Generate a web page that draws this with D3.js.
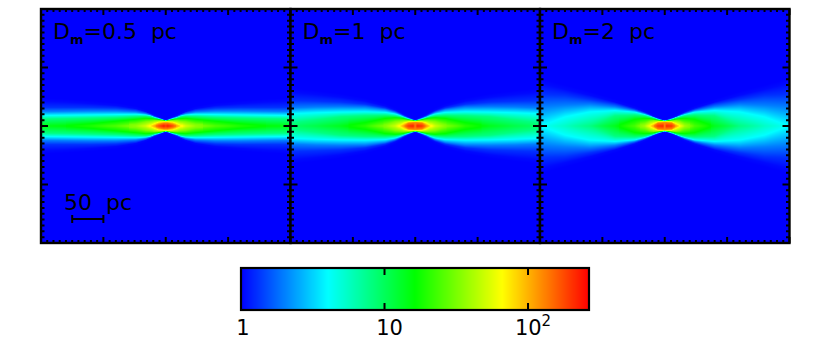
<!DOCTYPE html>
<html lang="en">
<head>
<meta charset="UTF-8">
<title>Dm panels</title>
<script src="https://cdn.jsdelivr.net/npm/d3@7"></script>
<style>
    body { margin: 0; background: #fff; }
    svg { display: block; }
    text { font-family: "DejaVu Sans", sans-serif; fill: #000; }
</style>
</head>
<body>
<div id="chart"></div>
<script>
    // distance from the centre along the plane, pc
    const xOffsets = [0, 3, 11, 18, 24, 32, 48, 80, 120, 160, 200];
    // values the height tables below are read at
    const levels = [130, 65, 32, 16, 8, 4, 2, 1.3, 1.05];

    // value on the midplane at each xOffset
    const midHalf = [200, 240, 180, 110, 75, 52, 36, 25, 19, 16, 14.5];
    const midOne = [120, 230, 200, 120, 75, 50, 33, 20, 14, 11, 9];
    const midTwo = [120, 220, 200, 115, 65, 40, 24, 14, 8, 5.5, 4];

    // height (pc) above the midplane where each level is reached, one row per level
    const heightsHalf = [
        [5, 5, 3, 0, 0, 0, 0, 0, 0, 0, 0],
        [7, 7, 6.5, 4, 1, 0, 0, 0, 0, 0, 0],
        [8, 8.5, 9, 9, 8, 7, 3, 0, 0, 0, 0],
        [8.5, 9, 10.5, 11.5, 12, 12.5, 11, 8, 4, 1, 0],
        [8.5, 9.5, 11.5, 13, 15, 16, 15.5, 14, 13, 12, 11.5],
        [9, 9.5, 12, 14, 16.5, 18, 19, 18.5, 18, 17.5, 17],
        [9.5, 10, 13, 15, 17.5, 20, 22.5, 24, 24, 23.5, 23],
        [9.5, 10.5, 13.5, 16, 19, 22, 26, 29, 30, 30, 30],
        [10, 11, 14, 17, 19.5, 23, 28, 33, 36, 38.5, 40]
    ];
    const heightsOne = [
        [5.5, 5.5, 5, 0, 0, 0, 0, 0, 0, 0, 0],
        [7, 7, 7, 5, 1, 0, 0, 0, 0, 0, 0],
        [8, 8.5, 9, 9, 8.5, 7.5, 2, 0, 0, 0, 0],
        [8.5, 9, 10.5, 12, 13, 13.5, 12.5, 6, 0, 0, 0],
        [8.5, 9.5, 11, 13.5, 15, 16.5, 17.5, 17, 15, 10, 5],
        [9, 9.5, 12, 14.5, 17, 19.5, 22, 23, 22.5, 21.5, 20],
        [9.5, 10, 13, 15.5, 18.5, 22, 26.5, 30.5, 31, 30.5, 29],
        [9.5, 10.5, 13.5, 17, 20, 24, 29, 35, 38.5, 40, 41],
        [10, 11, 14.5, 17.5, 21.5, 25.5, 32, 40, 46.5, 51, 54.5]
    ];
    const heightsTwo = [
        [5.5, 5.5, 5, 0, 0, 0, 0, 0, 0, 0, 0],
        [7, 7, 7, 4, 1, 0, 0, 0, 0, 0, 0],
        [7.5, 8, 8.5, 9, 8, 4, 0, 0, 0, 0, 0],
        [8, 8.5, 9.5, 11, 12, 12.5, 11, 0, 0, 0, 0],
        [8.5, 9, 10.5, 13, 14.5, 16.5, 18, 16.5, 0, 0, 0],
        [8.5, 9, 11, 14, 16, 18.5, 22.5, 25, 23, 15, 0],
        [9, 9.5, 12, 14.5, 17, 20, 25, 31, 35, 33.5, 30.5],
        [9.5, 10, 12.5, 15, 18, 21.5, 27, 36, 43, 49.5, 51],
        [9.5, 10, 13, 16, 19, 22.5, 29, 38.5, 49.5, 59, 69]
    ];

    const panelNames = ["0.5 pc", "1 pc", "2 pc"];
    const panelMid = [midHalf, midOne, midTwo];
    const panelHeights = [heightsHalf, heightsOne, heightsTwo];

    const colorStops = [1, 4.04, 16.3, 65.9, 266];
    const colorNames = ["#0000ff", "#00ffff", "#00ff00", "#ffff00", "#ff0000"];
    const barTicks = [1, 10, 100];

    const color = d3.scaleLog().domain(colorStops).range(colorNames).clamp(true);

    var margin = {top: 9, left: 41},
        panelWidth = 249.5,
        panelHeight = 234,
        ph = 234;

    var svg = d3.select("#chart").append("svg")
        .attr("width", 830)
        .attr("height", 345);

    var x = d3.scaleLinear().domain([-200, 200]).range([0, panelWidth]);
    var y = d3.scaleLinear().domain([-188.5, 188.5]).range([panelHeight, 0]);

    // paints one panel into a canvas, column by column
    function paint(mid, heights) {
        var canvas = document.createElement("canvas");
        var w = Math.ceil(panelWidth);
        canvas.width = w;
        canvas.height = ph;
        var ctx = canvas.getContext("2d");
        var img = ctx.createImageData(w, ph);
        var midAt = d3.scaleLinear().domain(xOffsets).range(mid).clamp(true);
        var rows = heights.map(function (row) {
            return d3.scaleLinear().domain(xOffsets).range(row).clamp(true);
        });
        d3.range(w).forEach(function (i) {
            var dx = Math.abs(x.invert(i + 0.5));
            var m = midAt(dx);
            var dom = [0], ran = [Math.log10(m)], last = 0;
            levels.forEach(function (l, k) {
                if (l >= m) return;
                var h = Math.max(rows[k](dx), last + 0.05);
                dom.push(h);
                ran.push(Math.log10(l));
                last = h;
            });
            dom.push(last * 1.1 + 1);
            ran.push(0);
            var profile = d3.scaleLinear().domain(dom).range(ran).clamp(true);
            d3.range(ph).forEach(function (j) {
                var dy = Math.abs(y.invert(j + 0.5));
                var c = d3.rgb(color(Math.pow(10, profile(dy))));
                var p = (j * w + i) * 4;
                img.data[p] = c.r;
                img.data[p + 1] = c.g;
                img.data[p + 2] = c.b;
                img.data[p + 3] = 255;
            });
        });
        ctx.putImageData(img, 0, 0);
        return canvas.toDataURL();
    }

    panelNames.forEach(function (name, i) {
        var g = svg.append("g")
            .attr("transform", "translate(" + (margin.left + i * panelWidth) + "," + margin.top + ")");

        g.append("image")
            .attr("width", Math.ceil(panelWidth))
            .attr("height", ph)
            .attr("href", paint(panelMid[i], panelHeights[i]));

        // ticks on all four sides, long every 100 pc
        var xTicks = d3.range(-200, 201, 10);
        var yTicks = d3.range(-20, 21).map(function (d) { return d * 188.5 / 20; });
        function xLen(d) { return d % 100 === 0 ? 6 : 3; }
        function yLen(d, k) { return k % 10 === 0 ? 7 : 3.5; }

        g.selectAll(".xt").data(xTicks).enter().append("path")
            .attr("d", function (d) {
                return "M" + x(d) + ",0v" + xLen(d) + "M" + x(d) + "," + panelHeight + "v" + (-xLen(d));
            })
            .attr("stroke", "#000").attr("stroke-width", 2);
        g.selectAll(".yt").data(yTicks).enter().append("path")
            .attr("d", function (d, k) {
                return "M0," + y(d) + "h" + yLen(d, k) + "M" + panelWidth + "," + y(d) + "h" + (-yLen(d, k));
            })
            .attr("stroke", "#000").attr("stroke-width", 2);

        g.append("rect")
            .attr("width", panelWidth).attr("height", panelHeight)
            .attr("fill", "none").attr("stroke", "#000").attr("stroke-width", 2.4);

        var label = g.append("text")
            .attr("x", 12).attr("y", 30)
            .style("font-size", "22px");
        label.append("tspan").text("D");
        label.append("tspan").attr("dy", 5).style("font-size", "13px").style("font-weight", "bold").text("m");
        label.append("tspan").attr("dy", -5).text("=" + name.replace(" ", "\u00a0\u00a0"));

        // scale bar in the first panel
        if (i === 0) {
            g.append("path")
                .attr("d", "M" + x(-150) + "," + (y(0) + 93) + "v-4v8v-4H" + x(-100) + "v-4v8")
                .attr("fill", "none").attr("stroke", "#000").attr("stroke-width", 2);
            g.append("text")
                .attr("x", 23).attr("y", 201)
                .style("font-size", "22px")
                .text("50\u00a0\u00a0pc");
        }
    });

    // colour bar
    var bar = {x0: 241, x1: 589, top: 268, bottom: 310};
    var barScale = d3.scaleLog().domain([colorStops[0], colorStops[4]]).range([bar.x0, bar.x1]);

    svg.selectAll(".cell").data(d3.range(bar.x0, bar.x1)).enter().append("rect")
        .attr("x", function (d) { return d; })
        .attr("y", bar.top)
        .attr("width", 1.5)
        .attr("height", bar.bottom - bar.top)
        .attr("fill", function (d) { return color(barScale.invert(d + 0.5)); });

    svg.append("rect")
        .attr("x", bar.x0).attr("y", bar.top)
        .attr("width", bar.x1 - bar.x0).attr("height", bar.bottom - bar.top)
        .attr("fill", "none").attr("stroke", "#000").attr("stroke-width", 2.2);

    svg.selectAll(".bt").data(barTicks.slice(1)).enter().append("path")
        .attr("d", function (d) {
            return "M" + barScale(d) + "," + bar.top + "v7M" + barScale(d) + "," + bar.bottom + "v-7";
        })
        .attr("stroke", "#000").attr("stroke-width", 2);

    barTicks.forEach(function (d) {
        var t = svg.append("text")
            .attr("x", barScale(d) + (d === 1 ? 2 : 5))
            .attr("y", 335)
            .attr("text-anchor", "middle")
            .style("font-size", "21px");
        if (d === 100) {
            t.append("tspan").text("10");
            t.append("tspan").attr("dy", -9).style("font-size", "15px").text("2");
        } else {
            t.text(d);
        }
    });
</script>
</body>
</html>
